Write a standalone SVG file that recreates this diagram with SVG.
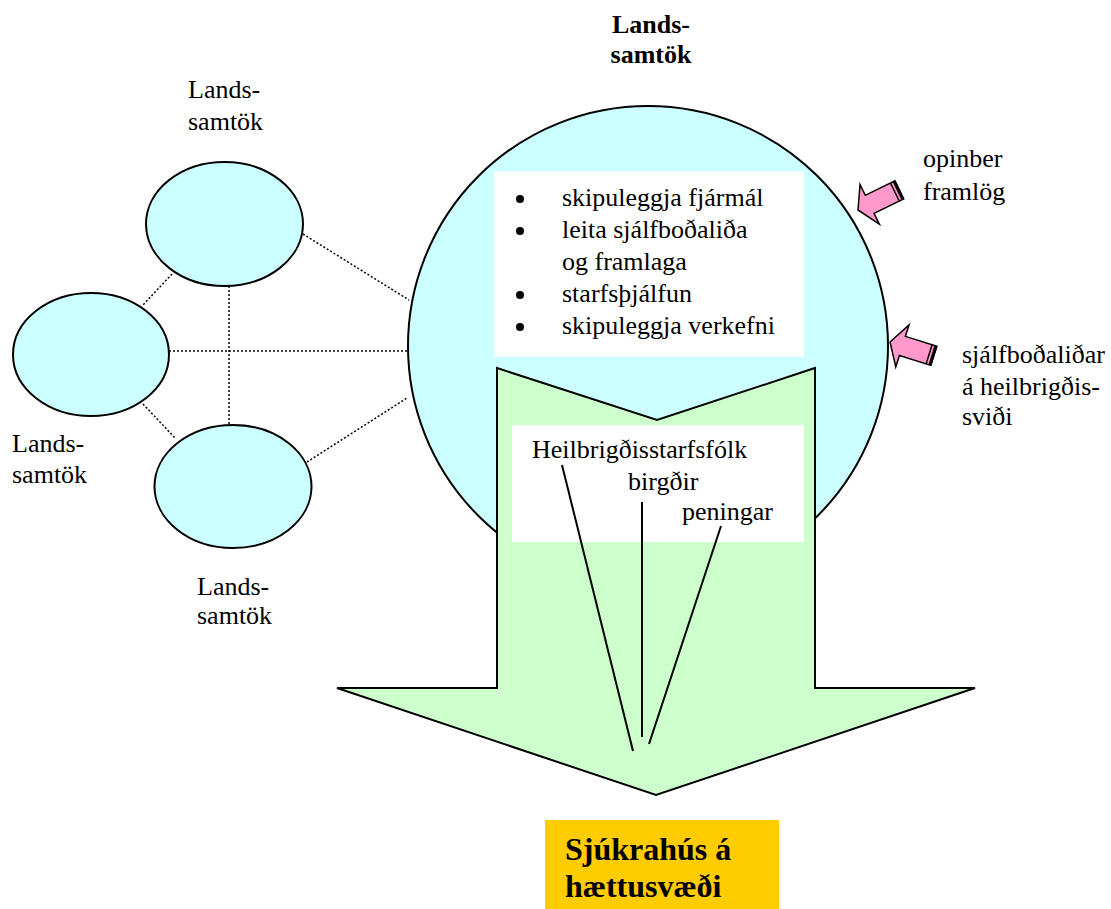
<svg xmlns="http://www.w3.org/2000/svg" width="1111" height="909" viewBox="0 0 1111 909">
<defs>
<style>
text{font-family:'Liberation Serif','Times New Roman','DejaVu Serif',serif;font-size:26px;fill:#000}
.b{font-weight:bold}
.dot{stroke:#000;stroke-width:1.5;stroke-dasharray:2 2;fill:none}
.node{fill:#CCFFFF;stroke:#000;stroke-width:2}
.pink{fill:#FF99CC;stroke:#000;stroke-width:1.5;stroke-linejoin:miter}
.ln{stroke:#000;stroke-width:2;fill:none}
</style>
<g id="pinkArrow">
<polygon class="pink" points="0,0 13,-22 13,-10 46,-10 46,10 13,10 13,22"/>
<line x1="41" y1="-10" x2="41" y2="10" stroke="#000" stroke-width="1.5"/>
<line x1="45" y1="-10" x2="45" y2="10" stroke="#000" stroke-width="3"/>
</g>
</defs>
<rect width="1111" height="909" fill="#fff"/>
<g id="connectors">
<line class="dot" x1="303" y1="234" x2="409" y2="300"/>
<line class="dot" x1="172" y1="274" x2="143" y2="305"/>
<line class="dot" x1="229" y1="286" x2="229" y2="425"/>
<line class="dot" x1="169" y1="351" x2="409" y2="351"/>
<line class="dot" x1="143" y1="404" x2="175" y2="438"/>
<line class="dot" x1="307" y1="462" x2="407" y2="398"/>
</g>
<g id="node-top">
<ellipse class="node" cx="224.5" cy="224" rx="78.5" ry="62"/>
<text x="188" y="98" font-family="Liberation Serif, serif">Lands-</text>
<text x="188" y="130" font-family="Liberation Serif, serif">samtök</text>
</g>
<g id="node-left">
<ellipse class="node" cx="91" cy="354.5" rx="78" ry="61.5"/>
<text x="12" y="452">Lands-</text>
<text x="12" y="483">samtök</text>
</g>
<g id="node-bottom">
<ellipse class="node" cx="233" cy="486.5" rx="78.5" ry="61.5"/>
<text x="197" y="595">Lands-</text>
<text x="197" y="624">samtök</text>
</g>
<g id="node-main">
<text class="b" x="651" y="33" text-anchor="middle">Lands-</text>
<text class="b" x="651" y="63" text-anchor="middle">samtök</text>
<circle class="node" cx="648" cy="346" r="240"/>
<rect x="494" y="171" width="310" height="186" fill="#fff"/>
<circle cx="520" cy="199" r="4"/>
<circle cx="520" cy="231" r="4"/>
<circle cx="520" cy="295" r="4"/>
<circle cx="520" cy="327" r="4"/>
<text x="562" y="206">skipuleggja fjármál</text>
<text x="562" y="238">leita sjálfboðaliða</text>
<text x="562" y="270">og framlaga</text>
<text x="562" y="302">starfsþjálfun</text>
<text x="562" y="334">skipuleggja verkefni</text>
</g>
<g id="node-flow">
<polygon points="497,368 657,420 815,368 815,688 975,688 656,795 337,688 497,688" fill="#CCFFCC" stroke="#000" stroke-width="2" stroke-linejoin="miter"/>
<rect x="512" y="425" width="292" height="117" fill="#fff"/>
<text x="532" y="458">Heilbrigðisstarfsfólk</text>
<text x="628" y="490">birgðir</text>
<text x="682" y="520">peningar</text>
<line class="ln" x1="562" y1="465" x2="633" y2="751"/>
<line class="ln" x1="642" y1="502" x2="642" y2="737"/>
<line class="ln" x1="721" y1="526" x2="649" y2="744"/>
</g>
<g id="node-opinber">
<use href="#pinkArrow" transform="translate(858,210) rotate(-26)"/>
<text x="923" y="167">opinber</text>
<text x="923" y="200">framlög</text>
</g>
<g id="node-sjalfbodalidar">
<use href="#pinkArrow" transform="translate(890,342) rotate(17.5)"/>
<text x="962" y="363">sjálfboðaliðar</text>
<text x="962" y="395">á heilbrigðis-</text>
<text x="962" y="425">sviði</text>
</g>
<g id="node-sjukrahus">
<rect x="545" y="820" width="234" height="89" fill="#FFCC00"/>
<text class="b" x="565" y="860" style="font-size:32px">Sjúkrahús á</text>
<text class="b" x="565" y="897" style="font-size:32px">hættusvæði</text>
</g>
</svg>
